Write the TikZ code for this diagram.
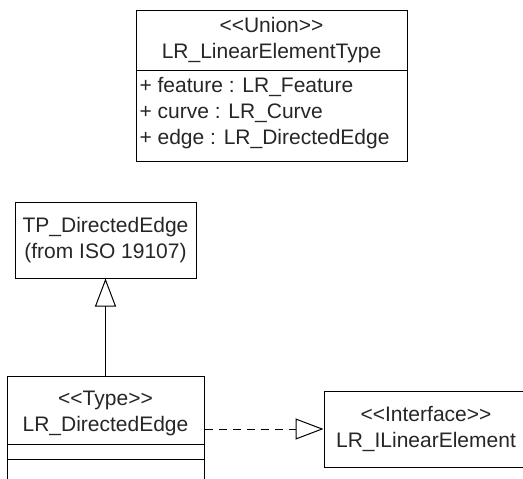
\documentclass[tikz,border=0pt]{standalone}
\usepackage{fontspec}
\setmainfont{Liberation Sans}[Ligatures=TeXOff]
\usetikzlibrary{arrows.meta}
\tikzset{every node/.style={font=\fontsize{21}{26}\selectfont, text=black!85, inner sep=0pt}}
\tikzset{classbox/.style={draw, rectangle}, generalize/.style={-{Triangle[open,length=28pt,width=21pt]}}, realize/.style={dash pattern=on 8pt off 6pt, -{Triangle[open,length=28pt,width=21pt]}}}

\begin{document}
\begin{tikzpicture}[x=1pt,y=-1pt,line width=1pt]
   \useasboundingbox (0,0) rectangle (523,479);
   \clip (0,0) rectangle (523,479);
   \node[classbox, minimum width=271pt, minimum height=151pt] (union) at (271.5,85.5) {};
   \draw (136,70) -- (407,70);
   \node[align=center] (unionname) at (271.5,40) {<<Union>>\\LR\_LinearElementType};
   \node[align=left, anchor=west] (unionattr) at (139,113.5) {+ feature : LR\_Feature\\+ curve : LR\_Curve\\+ edge : LR\_DirectedEdge};
   \node[classbox, align=center, minimum width=181pt, minimum height=76pt] (tp) at (105.5,240) {TP\_DirectedEdge\\(from ISO 19107)};
   \node[classbox, minimum width=197pt, minimum height=144pt] (dedge) at (105.5,448) {};
   \draw (7,444) -- (204,444);
   \draw (7,459) -- (204,459);
   \node[align=center] (dedgename) at (105.5,413) {<<Type>>\\LR\_DirectedEdge};
   \node[classbox, align=center, minimum width=204pt, minimum height=76pt] (iface) at (426,429) {<<Interface>>\\LR\_ILinearElement};
   \draw[generalize] (dedge) -- (tp);
   \draw[realize] (dedge.east |- iface) -- (iface);
\end{tikzpicture}
\end{document}
